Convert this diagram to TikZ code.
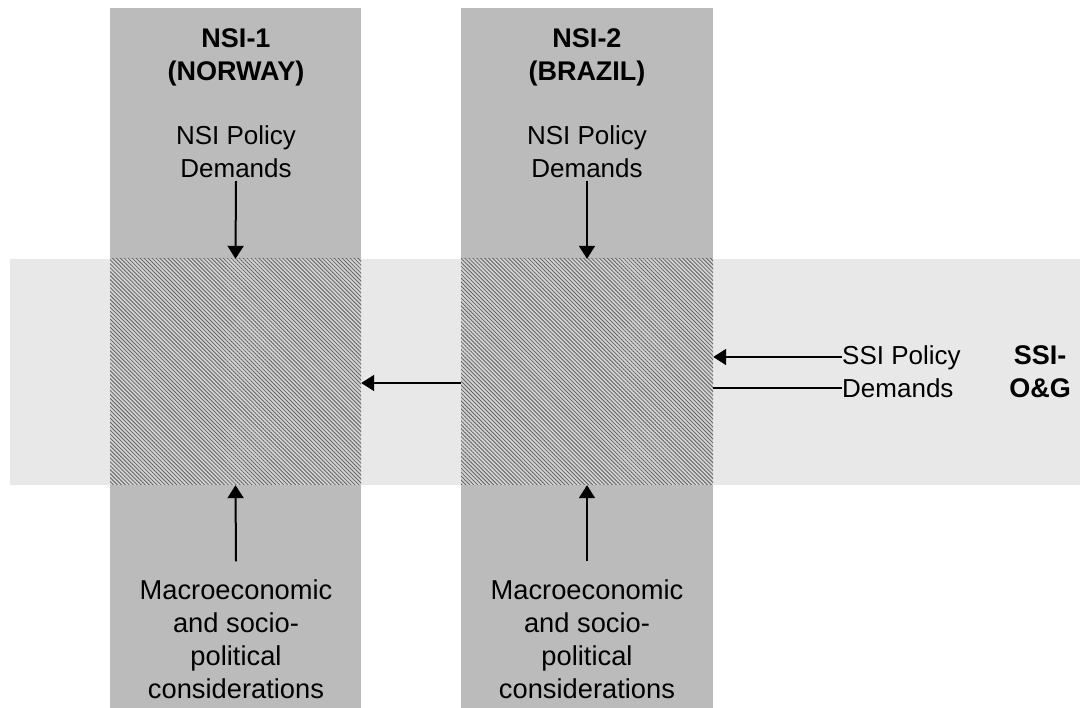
\documentclass[tikz,border=0pt]{standalone}
\usepackage{fontspec}
\setmainfont{Liberation Sans}
\usetikzlibrary{patterns.meta,arrows.meta}
\definecolor{colgray}{HTML}{BBBBBB}
\definecolor{bandgray}{HTML}{E8E8E8}
\definecolor{hatchbase}{HTML}{D2D2D2}
\definecolor{hatchline}{HTML}{626262}
\tikzset{
  column/.style={fill=colgray, draw=none},
  band/.style={fill=bandgray, draw=none},
  overlap/.style={draw=none, fill=hatchbase, postaction={pattern={Lines[angle=-45,distance=2.8pt,line width=0.8pt]}, pattern color=hatchline}},
  lbl/.style={font=\fontsize{26}{33}\selectfont, align=center, inner sep=0pt},
  biglbl/.style={lbl, font=\fontsize{27.3}{33}\selectfont},
  title/.style={lbl, font=\fontsize{27}{33}\selectfont\bfseries},
  flow/.style={line width=2pt, -{Triangle[length=13pt,width=16pt]}},
  plain/.style={line width=2pt}
}
\begin{document}
\begin{tikzpicture}[x=1pt,y=-1pt]
\useasboundingbox (0,0) rectangle (1080,708);
% horizontal sectoral band and the two national columns
\fill[band] (10,259) rectangle (1080,485);
\fill[column] (110,8) rectangle (361,708);
\fill[column] (461,8) rectangle (713,708);
% overlaps of the columns with the band
\node[overlap, minimum width=251pt, minimum height=226pt, inner sep=0pt] (h1) at (235.5,372) {};
\node[overlap, minimum width=252pt, minimum height=226pt, inner sep=0pt] (h2) at (587,372) {};
% column titles
\node[title] (t1) at (236,57) {NSI-1\\(NORWAY)};
\node[title] (t2) at (587,57) {NSI-2\\(BRAZIL)};
% national policy demands
\node[lbl] (p1) at (236,152) {NSI Policy\\Demands};
\node[lbl] (p2) at (587,152) {NSI Policy\\Demands};
% macro considerations
\node[biglbl] (m1) at (236,639) {Macroeconomic\\and socio-\\political\\considerations};
\node[biglbl] (m2) at (587,639) {Macroeconomic\\and socio-\\political\\considerations};
% sectoral side
\node[lbl, align=left, anchor=west] (s) at (842,372) {SSI Policy\\Demands};
\node[title] (so) at (1040,372) {SSI-\\O\&G};
% connectors
\draw[flow] ([yshift=-3pt]p1.south) -- (h1.north);
\draw[flow] ([yshift=-3pt]p2.south) -- (h2.north);
\draw[flow] ([yshift=18pt]m1.north) -- (h1.south);
\draw[flow] ([yshift=18pt]m2.north) -- (h2.south);
\draw[flow] ([yshift=-11pt]h2.west) -- ([yshift=-11pt]h1.east);
\coordinate (s1) at ([yshift=15pt]s.west);
\coordinate (s2) at ([yshift=-16pt]s.west);
\draw[flow] (s1) -- (s1 -| h2.east);
\draw[plain] (s2) -- (s2 -| h2.east);
\end{tikzpicture}
\end{document}
